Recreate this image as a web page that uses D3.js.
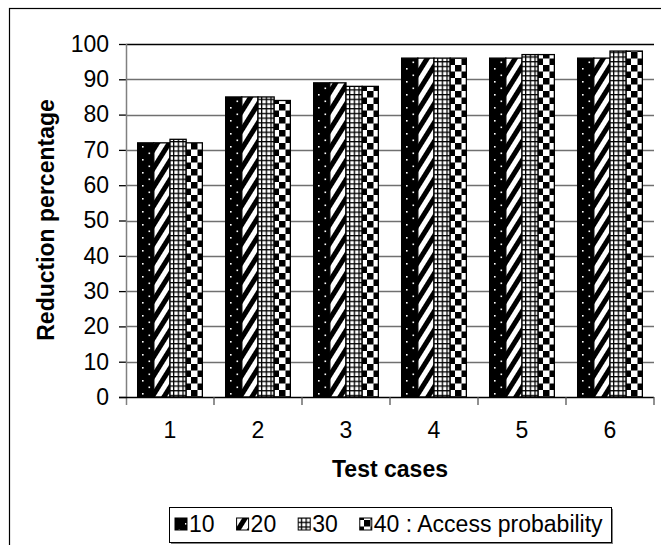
<!DOCTYPE html>
<html><head><meta charset="utf-8">
<script src="https://cdn.jsdelivr.net/npm/d3@7"></script>
<style>html,body{margin:0;padding:0;background:#fff;}svg{display:block;font-family:Arial,"Liberation Sans",sans-serif;}</style>
</head><body>
<svg id="c" width="661" height="545"></svg>
<script>
const categories = ["1","2","3","4","5","6"];
const seriesNames = ["10","20","30","40"];
const s10 = [72,85,89,96,96,96];
const s20 = [72,85,89,96,96,96];
const s30 = [73,85,88,96,97,98];
const s40 = [72,84,88,96,97,98];
const yTicks = [0,10,20,30,40,50,60,70,80,90,100];
const legendSuffix = " : Access probability";
const seriesValues = [s10,s20,s30,s40];

const svg = d3.select("#c");
const defs = svg.append("defs");

// patterns
const p1 = defs.append("pattern").attr("id","pat0").attr("patternUnits","userSpaceOnUse").attr("width",13).attr("height",13);
p1.append("rect").attr("width",13).attr("height",13).attr("fill","#000");
p1.append("rect").attr("x",3).attr("y",3).attr("width",1.6).attr("height",1.6).attr("fill","#fff");
p1.append("rect").attr("x",9.5).attr("y",9.5).attr("width",1.6).attr("height",1.6).attr("fill","#fff");

const p2 = defs.append("pattern").attr("id","pat1").attr("patternUnits","userSpaceOnUse").attr("width",10).attr("height",10).attr("patternTransform","rotate(-58)");
p2.append("rect").attr("width",10).attr("height",10).attr("fill","#fff");
p2.append("rect").attr("width",10).attr("height",5).attr("fill","#000");

const p3 = defs.append("pattern").attr("id","pat2").attr("patternUnits","userSpaceOnUse").attr("width",4.7).attr("height",4.7);
p3.append("rect").attr("width",4.7).attr("height",4.7).attr("fill","#000");
p3.append("rect").attr("x",1.3).attr("y",1.3).attr("width",3.4).attr("height",3.4).attr("fill","#fff");

const p4 = defs.append("pattern").attr("id","pat3").attr("patternUnits","userSpaceOnUse").attr("width",13).attr("height",13);
p4.append("rect").attr("width",13).attr("height",13).attr("fill","#fff");
p4.append("rect").attr("x",0).attr("y",0).attr("width",6.5).attr("height",6.5).attr("fill","#000");
p4.append("rect").attr("x",6.5).attr("y",6.5).attr("width",6.5).attr("height",6.5).attr("fill","#000");

// outer frame
svg.append("rect").attr("x",9.5).attr("y",8.5).attr("width",700).attr("height",600)
  .attr("fill","none").attr("stroke","#000").attr("stroke-width",1.2);

const x0 = d3.scaleBand().domain(categories).range([126,654]).padding(0);
const x1 = d3.scaleBand().domain(seriesNames).range([0,x0.bandwidth()]).paddingInner(0).paddingOuter(0.72);
const y = d3.scaleLinear().domain([0,100]).range([397,44]);

// gridlines
svg.append("g").selectAll("line").data(yTicks.filter(d=>d>0)).join("line")
  .attr("x1",126).attr("x2",654)
  .attr("y1",d=>Math.round(y(d))+0.5).attr("y2",d=>Math.round(y(d))+0.5)
  .attr("stroke",d=>d===100?"#000":"#707070").attr("stroke-width",1.3);

// bars
const groups = svg.append("g").selectAll("g").data(categories).join("g")
  .attr("transform",c=>`translate(${x0(c)},0)`);
groups.selectAll("rect").data((c,ci)=>seriesNames.map((s,si)=>({s,si,v:seriesValues[si][ci]}))).join("rect")
  .attr("x",d=>x1(d.s)).attr("width",x1.bandwidth())
  .attr("y",d=>y(d.v)).attr("height",d=>y(0)-y(d.v))
  .attr("fill",d=>`url(#pat${d.si})`).attr("stroke","#000").attr("stroke-width",1.3);

// y axis
const yAxis = d3.axisLeft(y).tickValues(yTicks).tickSize(7).tickPadding(10);
const ya = svg.append("g").attr("transform","translate(126,0)").call(yAxis);
ya.select(".domain").remove();
ya.selectAll(".tick line").attr("stroke","#000").attr("stroke-width",1.3);
ya.selectAll(".tick text").attr("font-size",23).attr("font-family","Arial").attr("fill","#000");
svg.append("line").attr("x1",126.5).attr("x2",126.5).attr("y1",44).attr("y2",405)
  .attr("stroke","#808080").attr("stroke-width",1.5);

// x axis
const xAxis = d3.axisBottom(x0).tickSize(0).tickPadding(25);
const xa = svg.append("g").attr("transform","translate(0,397)").call(xAxis);
xa.select(".domain").remove();
xa.selectAll(".tick text").attr("font-size",23).attr("font-family","Arial").attr("fill","#000");
svg.append("line").attr("x1",119).attr("x2",654).attr("y1",397.5).attr("y2",397.5)
  .attr("stroke","#000").attr("stroke-width",1.3);
svg.append("g").selectAll("line").data(categories).join("line")
  .attr("x1",c=>x0(c)+x0.bandwidth()).attr("x2",c=>x0(c)+x0.bandwidth())
  .attr("y1",397).attr("y2",405).attr("stroke","#555").attr("stroke-width",1.3);

// axis titles
svg.append("text").attr("x",390).attr("y",477).attr("text-anchor","middle")
  .attr("font-size",23).attr("font-weight","bold").text("Test cases");
svg.append("text").attr("transform","translate(54,220) rotate(-90)").attr("text-anchor","middle")
  .attr("font-size",23).attr("font-weight","bold").text("Reduction percentage");

// legend
const lg = svg.append("g");
const lx = 169, ly = 507, lw = 442, lh = 35;
lg.append("rect").attr("x",lx+2).attr("y",ly+2).attr("width",lw).attr("height",lh).attr("fill","#808080");
lg.append("rect").attr("x",lx+0.5).attr("y",ly+0.5).attr("width",lw).attr("height",lh).attr("fill","#fff").attr("stroke","#000").attr("stroke-width",1);
let cx = 175;
seriesNames.forEach((s,i)=>{
  lg.append("rect").attr("x",cx).attr("y",518).attr("width",12).attr("height",12)
    .attr("fill",`url(#pat${i})`).attr("stroke","#000").attr("stroke-width",1);
  const t = lg.append("text").attr("x",cx+14).attr("y",532).attr("font-size",23)
    .text(i===seriesNames.length-1 ? s+legendSuffix : s);
  cx += 14 + t.node().getComputedTextLength() + 22;
});
</script>
</body></html>
